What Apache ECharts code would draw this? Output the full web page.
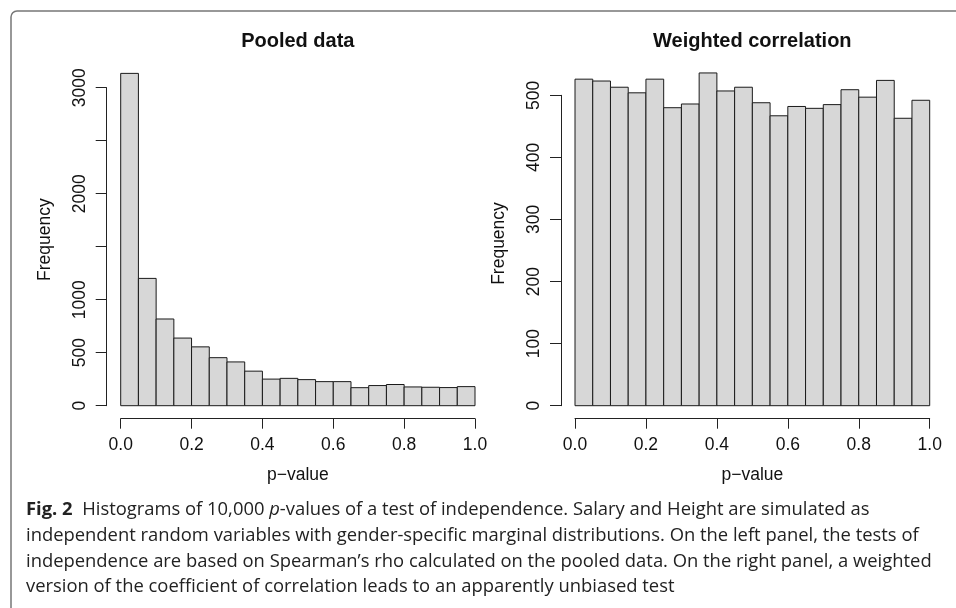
<!DOCTYPE html>
<html>
<head>
<meta charset="utf-8">
<script src="https://cdn.jsdelivr.net/npm/echarts@6/dist/echarts.min.js"></script>
<style>
  html, body { margin: 0; padding: 0; background: #fff; }
  #char1 { width: 956px; height: 608px; }
</style>
</head>
<body>
<div id="char1"></div>
<script>
// bin edges of both histograms
const breaks = [0, 0.05, 0.1, 0.15, 0.2, 0.25, 0.3, 0.35, 0.4, 0.45, 0.5,
    0.55, 0.6, 0.65, 0.7, 0.75, 0.8, 0.85, 0.9, 0.95, 1];
// counts
const pooledCounts = [3135, 1201, 818, 638, 555, 453, 413, 326, 251, 258,
    246, 227, 227, 170, 190, 200, 177, 174, 171, 180];
const weightedCounts = [526, 523, 513, 504, 526, 480, 486, 536, 507, 513,
    488, 467, 482, 479, 485, 509, 497, 524, 463, 492];
// tick labels that R actually printed
const pooledYLabels = [0, 500, 1000, 2000, 3000];
const weightedYLabels = [0, 100, 200, 300, 400, 500];
const titles = ['Pooled data', 'Weighted correlation'];
const caption = [
    '{b|Fig. 2}  Histograms of 10,000 {i|p}-values of a test of independence. Salary and Height are simulated as',
    'independent random variables with gender-specific marginal distributions. On the left panel, the tests of',
    'independence are based on Spearman\u2019s rho calculated on the pooled data. On the right panel, a weighted',
    'version of the coefficient of correlation leads to an apparently unbiased test'
];

char1();

function toBins(counts) {
    return counts.map(function(c, i) { return [breaks[i], breaks[i + 1], c]; });
}

function renderBin(params, api) {
    var p0 = api.coord([api.value(0), api.value(2)]);
    var p1 = api.coord([api.value(1), 0]);
    return {
        type: 'rect',
        shape: { x: p0[0], y: p0[1], width: p1[0] - p0[0], height: p1[1] - p0[1] },
        style: { fill: '#d7d7d7', stroke: '#1a1a1a', lineWidth: 1 }
    };
}

function xAxisOf(idx) {
    return {
        gridIndex: idx,
        type: 'value',
        min: 0,
        max: 1,
        interval: 0.2,
        offset: 13,
        name: 'p\u2212value',
        nameLocation: 'middle',
        nameGap: 47,
        nameTextStyle: { fontFamily: 'Liberation Sans', fontSize: 17.5, color: '#111' },
        axisLine: { onZero: false, lineStyle: { color: '#222', width: 1 } },
        axisTick: { length: 10, lineStyle: { color: '#222' } },
        axisLabel: {
            margin: 17,
            fontFamily: 'Liberation Sans',
            fontSize: 17.5,
            color: '#111',
            formatter: function(v) { return v.toFixed(1); }
        },
        splitLine: { show: false }
    };
}

function yAxisOf(idx, max, interval, labels) {
    return {
        gridIndex: idx,
        type: 'value',
        min: 0,
        max: max,
        interval: interval,
        offset: 14,
        name: 'Frequency',
        nameLocation: 'middle',
        nameRotate: 90,
        nameGap: 53,
        nameTextStyle: { fontFamily: 'Liberation Sans', fontSize: 17.5, color: '#111', padding: [0, 0, 0, 14] },
        axisLine: { show: true, onZero: false, lineStyle: { color: '#222', width: 1 } },
        axisTick: { show: true, length: 11, lineStyle: { color: '#222' } },
        axisLabel: {
            rotate: 90,
            margin: 18,
            fontFamily: 'Liberation Sans',
            fontSize: 17.5,
            color: '#111',
            formatter: function(v) { return labels.indexOf(v) >= 0 ? String(v) : ''; }
        },
        splitLine: { show: false }
    };
}

function char1() {
    var myChart = echarts.init(document.getElementById('char1'), null, { renderer: 'canvas' });

    var graphics = [{
        type: 'rect',
        shape: { x: 11, y: 11, width: 990, height: 650, r: 6 },
        style: { fill: 'none', stroke: '#777', lineWidth: 1.5 }
    }, {
        type: 'text', x: 297.8, y: 41,
        style: { text: titles[0], textAlign: 'center', textVerticalAlign: 'middle',
            font: 'bold 20px "Liberation Sans"', fill: '#111' }
    }, {
        type: 'text', x: 752.3, y: 41,
        style: { text: titles[1], textAlign: 'center', textVerticalAlign: 'middle',
            font: 'bold 20px "Liberation Sans"', fill: '#111' }
    }];
    caption.forEach(function(line, i) {
        graphics.push({
            type: 'text', x: 26, y: 510 + i * 25.7,
            style: {
                text: line,
                textVerticalAlign: 'middle',
                fontFamily: 'Open Sans',
                fontSize: 18.4,
                fill: '#222',
                rich: {
                    b: { fontFamily: 'Open Sans', fontSize: 18.4, fontWeight: 'bold', fill: '#222' },
                    i: { fontFamily: 'Open Sans', fontSize: 18.4, fontStyle: 'italic', fill: '#222' }
                }
            }
        });
    });

    option = {
        backgroundColor: '#fff',
        animation: false,
        grid: [
            { left: 120.7, right: 481, top: 87.7, bottom: 202.3 },
            { left: 575, right: 26.3, top: 95.3, bottom: 202.3 }
        ],
        xAxis: [xAxisOf(0), xAxisOf(1)],
        yAxis: [
            yAxisOf(0, 3000, 500, pooledYLabels),
            yAxisOf(1, 500, 100, weightedYLabels)
        ],
        graphic: graphics,
        series: [{
                name: titles[0],
                type: 'custom',
                xAxisIndex: 0,
                yAxisIndex: 0,
                clip: false,
                renderItem: renderBin,
                encode: { x: [0, 1], y: 2 },
                data: toBins(pooledCounts)
            },
            {
                name: titles[1],
                type: 'custom',
                xAxisIndex: 1,
                yAxisIndex: 1,
                clip: false,
                renderItem: renderBin,
                encode: { x: [0, 1], y: 2 },
                data: toBins(weightedCounts)
            }
        ]
    };

    myChart.setOption(option);
    window.addEventListener('resize', function() { myChart.resize(); })
}
</script>
</body>
</html>
